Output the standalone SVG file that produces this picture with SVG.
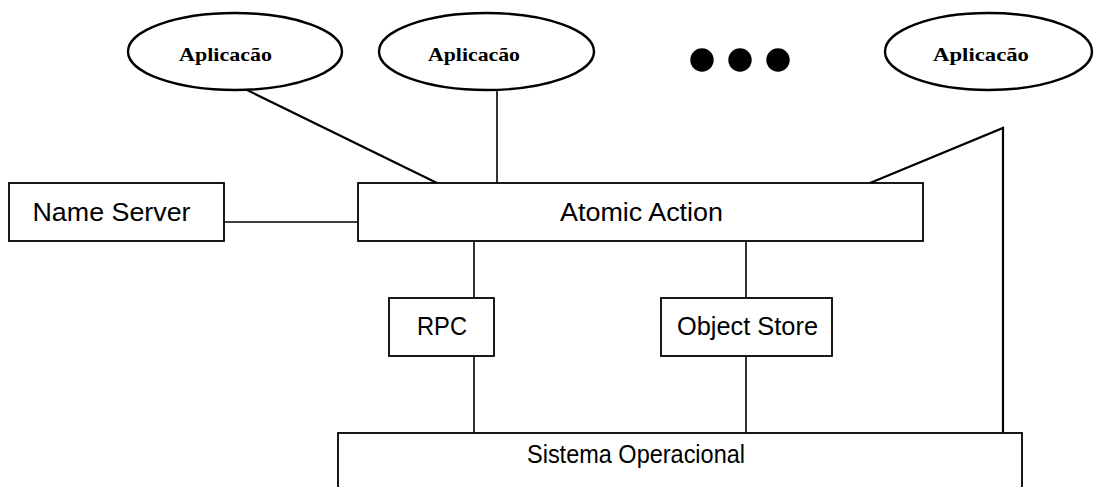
<svg xmlns="http://www.w3.org/2000/svg" width="1094" height="487" viewBox="0 0 1094 487">
  <style>
    .app { fill: #fff; stroke: #000; stroke-width: 2.4; }
    .box { fill: #fff; stroke: #000; stroke-width: 1.8; }
    .wire { fill: none; stroke: #000; stroke-width: 1.6; }
    .wire-thick { fill: none; stroke: #000; stroke-width: 2.2; }
    .serif { font-family: "Liberation Serif", "Times New Roman", serif; font-weight: bold; font-size: 19px; fill: #000; }
    .sans { font-family: "Liberation Sans", Arial, sans-serif; font-size: 25px; fill: #000; }
  </style>
  <rect width="1094" height="487" fill="#fff"/>

  <!-- connectors -->
  <g id="connectors">
    <line class="wire-thick" x1="245" y1="89" x2="437" y2="183"/>
    <line class="wire" x1="497" y1="89" x2="497" y2="183"/>
    <polyline class="wire-thick" points="870,183 1003,128 1003,433"/>
    <line class="wire" x1="224" y1="222" x2="358" y2="222"/>
    <line class="wire" x1="474" y1="241" x2="474" y2="298"/>
    <line class="wire" x1="746" y1="241" x2="746" y2="298"/>
    <line class="wire" x1="474" y1="356" x2="474" y2="433"/>
    <line class="wire" x1="746" y1="356" x2="746" y2="433"/>
  </g>

  <!-- applications -->
  <g id="app1">
    <ellipse class="app" cx="235" cy="51.5" rx="107" ry="38.5"/>
    <text class="serif" x="179" y="61" textLength="93" lengthAdjust="spacingAndGlyphs">Aplicacão</text>
  </g>
  <g id="app2">
    <ellipse class="app" cx="486.5" cy="51.5" rx="107.5" ry="38.5"/>
    <text class="serif" x="428" y="61" textLength="92" lengthAdjust="spacingAndGlyphs">Aplicacão</text>
  </g>
  <g id="ellipsis">
    <circle cx="702" cy="60" r="11.7" fill="#000"/>
    <circle cx="740" cy="60" r="11.7" fill="#000"/>
    <circle cx="778" cy="60" r="11.7" fill="#000"/>
  </g>
  <g id="app3">
    <ellipse class="app" cx="988.5" cy="51.5" rx="103.5" ry="38.5"/>
    <text class="serif" x="933" y="61" textLength="96" lengthAdjust="spacingAndGlyphs">Aplicacão</text>
  </g>

  <!-- service layers -->
  <g id="name-server">
    <rect class="box" x="9" y="183" width="215" height="58"/>
    <text class="sans" x="111.5" y="221" text-anchor="middle" textLength="158" lengthAdjust="spacingAndGlyphs">Name Server</text>
  </g>
  <g id="atomic-action">
    <rect class="box" x="358" y="183" width="565" height="58"/>
    <text class="sans" x="641.5" y="221" text-anchor="middle" textLength="163" lengthAdjust="spacingAndGlyphs">Atomic Action</text>
  </g>
  <g id="rpc">
    <rect class="box" x="389" y="298" width="105" height="58"/>
    <text class="sans" x="442" y="335" text-anchor="middle" textLength="50" lengthAdjust="spacingAndGlyphs">RPC</text>
  </g>
  <g id="object-store">
    <rect class="box" x="661" y="298" width="171" height="58"/>
    <text class="sans" x="747.5" y="335" text-anchor="middle" textLength="141" lengthAdjust="spacingAndGlyphs">Object Store</text>
  </g>
  <g id="sistema-operacional">
    <rect class="box" x="338" y="433" width="684" height="70"/>
    <text class="sans" x="636" y="463" text-anchor="middle" textLength="218" lengthAdjust="spacingAndGlyphs">Sistema Operacional</text>
  </g>
</svg>
